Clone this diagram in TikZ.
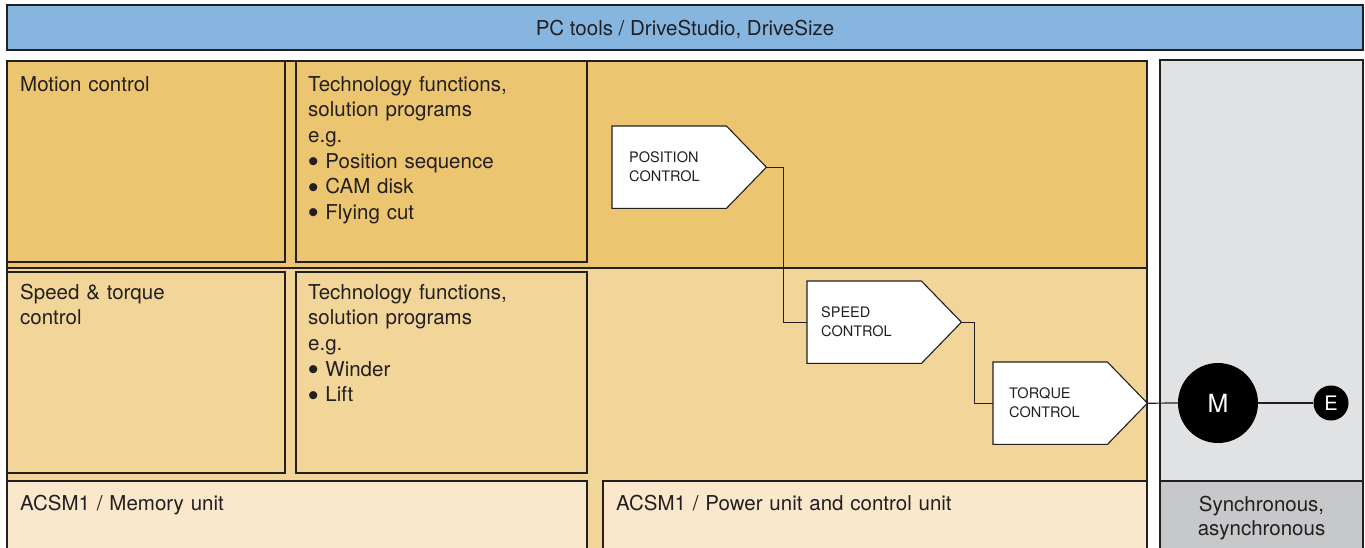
\documentclass[tikz,border=0pt]{standalone}
\usepackage{fontspec}
\setmainfont{TeX Gyre Heros}
\newfontfamily\bulfont{Liberation Sans}
\newcommand\bul{\raisebox{-0.17em}{\scalebox{1.45}{\bulfont •}}\ }
\usetikzlibrary{calc}
\definecolor{barblue}{HTML}{86B5DF}
\definecolor{darkor}{HTML}{ECC571}
\definecolor{lightor}{HTML}{F2D699}
\definecolor{cream}{HTML}{F9E8CB}
\definecolor{lgray}{HTML}{E1E2E4}
\definecolor{dgray}{HTML}{C7C8CA}
\definecolor{ink}{HTML}{231F20}
\tikzset{
  box/.style={draw=ink, line width=1.1pt},
  lbl/.style={anchor=base west, inner sep=0pt, font=\fontsize{20.5}{25.7}\selectfont, text=ink, align=left, text width=#1},
  lbl/.default=260pt,
  ctlbox/.style={rectangle, anchor=north west, minimum width=154pt, minimum height=82pt, inner sep=0pt},
  ctltxt/.style={anchor=west, inner sep=0pt, font=\fontsize{14.5}{19}\selectfont, text=ink, align=left, text width=110pt},
  wire/.style={draw=ink, line width=1.2pt},
  motor/.style={circle, fill=black, text=white, inner sep=0pt, minimum size=#1}
}
\begin{document}
\begin{tikzpicture}[x=1pt,y=-1pt]
\useasboundingbox (0,0) rectangle (1365,547);
\clip (0,0) rectangle (1365,547);
\fill[white] (0,0) rectangle (1365,547);
% top bar
\draw[box, fill=barblue] (7,5) rectangle (1363,50);
\node[anchor=base, inner sep=0pt, font=\fontsize{20.5}{25.7}\selectfont, text=ink] (pc) at (685,35) {PC tools / DriveStudio, DriveSize};
% orange area
\fill[darkor] (7,61) rectangle (1147,268);
\fill[lightor] (7,268) rectangle (1147,560);
\draw[box] (7,61) rectangle (1147,560);
\draw[box] (7,268) -- (1147,268);
% inner boxes
\draw[box] (7,61) rectangle (285,262);
\draw[box] (296,61) rectangle (587,262);
\draw[box] (7,272) rectangle (285,473);
\draw[box] (296,272) rectangle (587,473);
\draw[box, fill=cream] (7,481) rectangle (587,560);
\draw[box, fill=cream] (603,481) rectangle (1147,560);
% gray area
\draw[box, fill=lgray] (1160,60) rectangle (1363,481);
\draw[box, fill=dgray] (1160,481) rectangle (1363,560);
% texts
\node[lbl] (mc) at (20,91) {Motion control};
\node[lbl] (tf1) at (308,91) {Technology functions,\\solution programs\\e.g.\\\bul Position sequence\\\bul CAM disk\\\bul Flying cut};
\node[lbl] (st) at (20,299) {Speed \& torque\\control};
\node[lbl] (tf2) at (308,299) {Technology functions,\\solution programs\\e.g.\\\bul Winder\\\bul Lift};
\node[lbl=500pt] (mem) at (20,510) {ACSM1 / Memory unit};
\node[lbl=500pt] (pwr) at (616,510) {ACSM1 / Power unit and control unit};
\node[anchor=base, inner sep=0pt, font=\fontsize{20.5}{24}\selectfont, text=ink, align=center, text width=200pt] (syn) at (1261.5,511) {Synchronous,\\asynchronous};
% control blocks
\node[ctlbox] (pos) at (612,126) {};
\node[ctlbox] (spd) at (807,281) {};
\node[ctlbox] (trq) at (993,362) {};
\foreach \n in {pos,spd,trq}{
  \draw[box, fill=white] (\n.north west) -- ($(\n.north east)+(-40,0)$) -- (\n.east) -- ($(\n.south east)+(-40,0)$) -- (\n.south west) -- cycle;
}
\node[ctltxt] (post) at ($(pos.west)+(17,0)$) {POSITION\\CONTROL};
\node[ctltxt] (spdt) at ($(spd.west)+(14,0)$) {SPEED\\CONTROL};
\node[ctltxt] (trqt) at ($(trq.west)+(16,0)$) {TORQUE\\CONTROL};
% motor and encoder
\node[motor=80pt, font=\fontsize{25}{25}\selectfont] (M) at (1218,403) {M};
\node[motor=35pt, font=\fontsize{20}{20}\selectfont] (E) at (1331,403) {E};
% connectors
\draw[wire] (pos.east) -- ++(17,0) |- (spd.west);
\draw[wire] (spd.east) -- ++(13,0) |- (trq.west);
\draw[wire] (trq.east) -- (M.west);
\draw[wire] (M.east) -- (E.west);
\end{tikzpicture}
\end{document}
